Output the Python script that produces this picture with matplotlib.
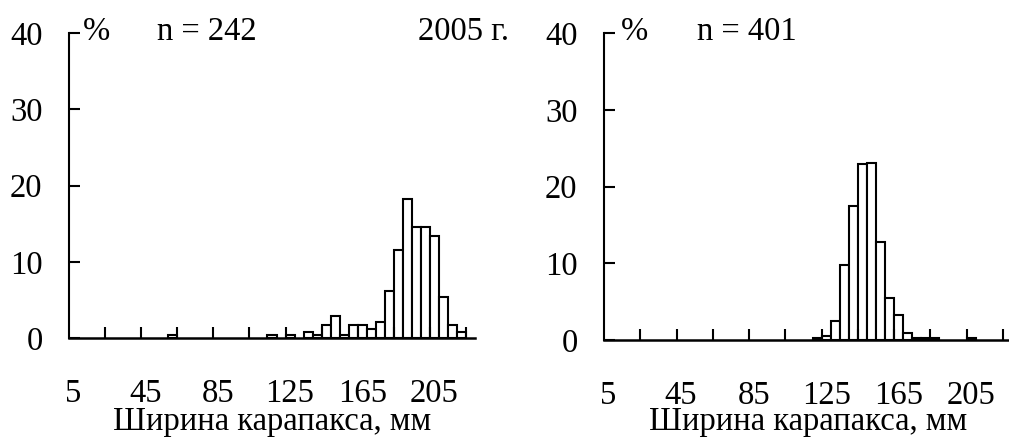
import matplotlib
matplotlib.use('Agg')
import matplotlib.pyplot as plt
from matplotlib.ticker import FixedLocator

plt.rcParams['font.family'] = ['Liberation Serif', 'DejaVu Serif']

# bin centres (mm) and share of crabs (%) for each panel, only non-empty bins
bins_2005a = [60, 115, 125, 135, 140, 145, 150, 155, 160, 165, 170, 175,
              180, 185, 190, 195, 200, 205, 210, 215, 220]
pct_2005a = [0.41, 0.41, 0.41, 0.83, 0.41, 1.65, 2.9, 0.41, 1.65, 1.65, 1.24, 2.07,
             6.2, 11.6, 18.2, 14.5, 14.5, 13.4, 5.4, 1.65, 0.83]

bins_2005b = [120, 125, 130, 135, 140, 145, 150, 155, 160, 165, 170,
              175, 180, 185, 205]
pct_2005b = [0.25, 0.5, 2.5, 9.8, 17.4, 22.9, 23.1, 12.8, 5.5, 3.2, 0.9,
             0.25, 0.25, 0.25, 0.25]

tick_labels = [5, 45, 85, 125, 165, 205]
tick_marks = [22.5 + 20 * k for k in range(11)]
y_ticks = [0, 10, 20, 30, 40]

fs = 23.5
W, H = 1009, 441
fig = plt.figure(figsize=(W / 100, H / 100), dpi=100)

panels = [
    ([69, 338, 406, 305], bins_2005a, pct_2005a, 'n = 242', (10, 51.5)),
    ([604, 340, 408, 307], bins_2005b, pct_2005b, 'n = 401', (12, 54)),
]

for (px, py, pw, ph), bins, pct, ntxt, (xp, xn) in panels:
    ax = fig.add_axes([px / W, (H - py) / H, pw / W, ph / H])
    ax.bar(bins, pct, width=5, color='white', edgecolor='black', linewidth=1.5)
    ax.set_xlim(2.5, 227.5)
    ax.set_ylim(0, 40)
    ax.spines['top'].set_visible(False)
    ax.spines['right'].set_visible(False)
    ax.spines['left'].set_linewidth(1.5)
    ax.spines['bottom'].set_linewidth(1.8)
    ax.set_yticks(y_ticks)
    ax.set_xticks(tick_labels)
    ax.xaxis.set_minor_locator(FixedLocator(tick_marks))
    ax.tick_params(axis='y', direction='in', length=8, width=1.5, labelsize=fs, pad=19)
    ax.tick_params(axis='x', which='major', length=0, labelsize=fs, pad=29)
    ax.tick_params(axis='x', which='minor', direction='in', length=8, width=1.5)
    ax.set_xlabel('Ширина карапакса, мм', fontsize=fs, va='baseline')
    ax.xaxis.set_label_coords(0.5, -(430 - py) / ph)
    ax.text(xp, 40.2, '%', fontsize=fs, va='center', ha='left')
    ax.text(xn, 40.2, ntxt, fontsize=fs, va='center', ha='left')
    if ntxt == 'n = 242':
        ax.text(196, 40.2, '2005 г.', fontsize=fs, va='center', ha='left')

fig.savefig('out.png', dpi=100)
